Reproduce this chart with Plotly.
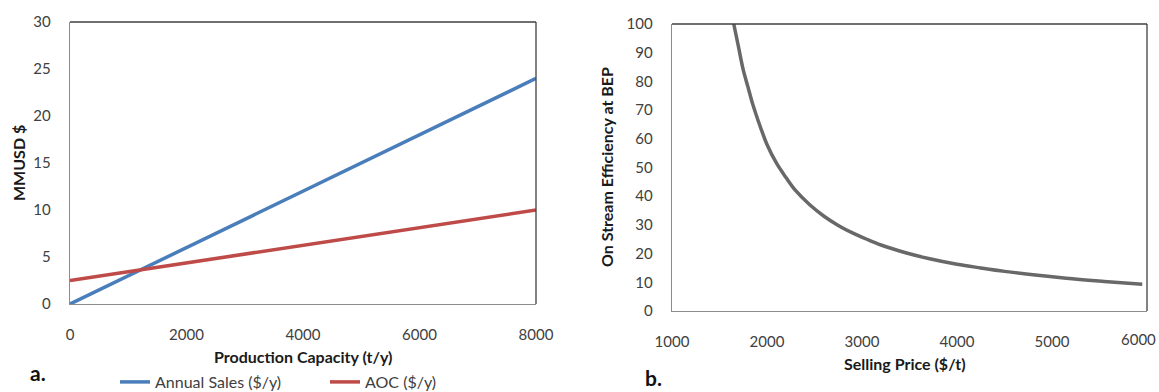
import plotly.graph_objects as go

# ---- data ----
capacity = [0, 8000]
annual_sales = [0, 24]
aoc = [2.5, 10]

price = [1650, 1700, 1750, 1800, 1850, 1900, 2000, 2100, 2200, 2300, 2450, 2600, 2750,
         2900, 3050, 3200, 3450, 3700, 4000, 4250, 4500, 4800, 5150, 5550, 5950]
efficiency = [100, 92, 84, 78, 72, 67, 58, 51.5, 46.5, 42, 37, 33, 29.8,
              27.2, 25, 23, 20.4, 18.3, 16.3, 15, 13.8, 12.6, 11.4, 10.3, 9.3]

left_xticks = [0, 2000, 4000, 6000, 8000]
left_yticks = [0, 5, 10, 15, 20, 25, 30]
right_xticks = [1000, 2000, 3000, 4000, 5000]
right_last_tick = 6000
right_yticks = list(range(0, 101, 10))

W, H = 1159, 392
FONT = "Lato"
TICKC = "#404040"

def px(x):
    return x / W

def py(y):
    return 1 - y / H

fig = go.Figure()
fig.add_trace(go.Scatter(x=capacity, y=annual_sales, mode="lines", name="Annual Sales ($/y)",
                         line=dict(color="#4A7EBB", width=3.5), xaxis="x", yaxis="y"))
fig.add_trace(go.Scatter(x=capacity, y=aoc, mode="lines", name="AOC ($/y)",
                         line=dict(color="#BE4B48", width=3.5), xaxis="x", yaxis="y"))
fig.add_trace(go.Scatter(x=price, y=efficiency, mode="lines", name="eff", showlegend=False,
                         line=dict(color="#686868", width=3.5, shape="spline", smoothing=1.0),
                         xaxis="x2", yaxis="y2"))

axis_common = dict(showgrid=False, zeroline=False, showline=True, linecolor="#8C8C8C",
                   linewidth=1.3, ticks="", tickfont=dict(family=FONT, size=15, color=TICKC),
                   fixedrange=True, automargin=False)

fig.update_layout(
    width=W, height=H, margin=dict(l=0, r=0, t=0, b=0, autoexpand=False),
    paper_bgcolor="white", plot_bgcolor="white",
    font=dict(family=FONT, color=TICKC),
    xaxis=dict(domain=[px(70), px(536)], range=[0, 8000], tickvals=left_xticks,
               anchor="y", ticklabelstandoff=17, **axis_common),
    yaxis=dict(domain=[py(304), py(22)], range=[0, 30], tickvals=left_yticks,
               anchor="x", ticklabelstandoff=15, **axis_common),
    xaxis2=dict(domain=[px(672), px(1147)], range=[1000, 6000], tickvals=right_xticks,
                anchor="y2", ticklabelstandoff=17, **axis_common),
    yaxis2=dict(domain=[py(311), py(24)], range=[0, 100], tickvals=right_yticks,
                anchor="x2", ticklabelstandoff=15, **axis_common),
    legend=dict(orientation="h", x=px(115), y=py(382), xanchor="left", yanchor="middle",
                font=dict(family=FONT, size=16, color=TICKC), bgcolor="rgba(0,0,0,0)",
                itemwidth=30, entrywidth=165, entrywidthmode="pixels"),
    showlegend=True,
)

# last right x tick label, nudged inside the figure as in the reference
fig.add_annotation(xref="x2", yref="y2", x=right_last_tick, y=0, text=str(right_last_tick),
                   showarrow=False, xanchor="right", yanchor="top", xshift=11, yshift=-17,
                   font=dict(family=FONT, size=15, color=TICKC))

# dark top/right frame edges
for xd, yd in (("x domain", "y domain"), ("x2 domain", "y2 domain")):
    fig.add_shape(type="line", xref=xd, yref=yd, x0=0, x1=1, y0=1, y1=1,
                  line=dict(color="#404040", width=1.3))
    fig.add_shape(type="line", xref=xd, yref=yd, x0=1, x1=1, y0=0, y1=1,
                  line=dict(color="#404040", width=1.3))

title_font = dict(family=FONT, size=16, color="#1a1a1a")
annotations = [
    dict(text="<b>Production Capacity (t/y)</b>", x=px(303), y=py(356), font=title_font),
    dict(text="<b>MMUSD $</b>", x=px(18), y=py(163), textangle=-90, font=title_font),
    dict(text="<b>Selling Price ($/t)</b>", x=px(905), y=py(363), font=title_font),
    dict(text="<b>On Stream Efficiency at BEP</b>", x=px(607), y=py(167), textangle=-90,
         font=title_font),
    dict(text="<b>a.</b>", x=px(38), y=py(372), font=dict(family=FONT, size=21, color="#111")),
    dict(text="<b>b.</b>", x=px(654), y=py(377), font=dict(family=FONT, size=21, color="#111")),
]
for a in annotations:
    fig.add_annotation(xref="paper", yref="paper", showarrow=False,
                       xanchor="center", yanchor="middle", **a)

fig.write_html("out.html", config={"displayModeBar": False, "staticPlot": True},
               post_script="document.body.style.margin='0';document.body.style.overflow='hidden';")
